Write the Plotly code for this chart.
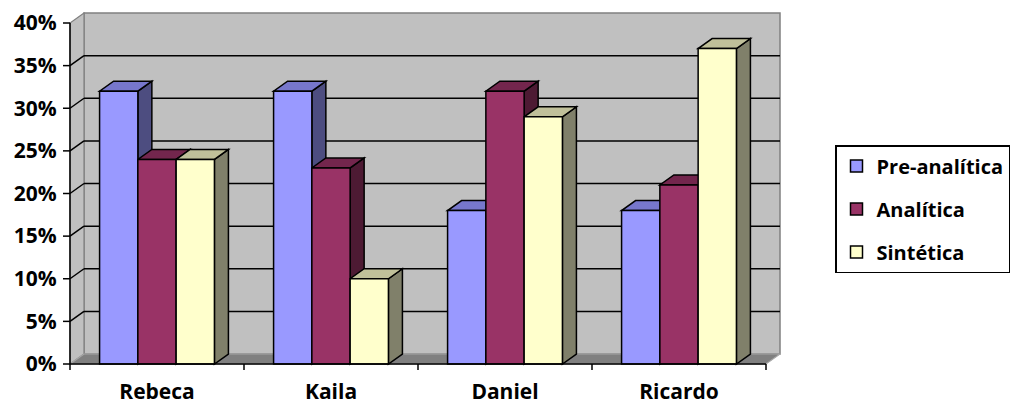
import plotly.graph_objects as go

# ---------------- data ----------------
categories = ["Rebeca", "Kaila", "Daniel", "Ricardo"]
series_names = ["Pre-analítica", "Analítica", "Sintética"]
pre_analitica = [32, 32, 18, 18]
analitica = [24, 23, 32, 21]
sintetica = [24, 10, 29, 37]
y_tick_values = [0, 5, 10, 15, 20, 25, 30, 35, 40]
y_tick_labels = ["0%", "5%", "10%", "15%", "20%", "25%", "30%", "35%", "40%"]

series_values = [pre_analitica, analitica, sintetica]
front_colors = ["#9999FF", "#993366", "#FFFFCC"]
top_colors = ["#7777CC", "#73264D", "#C0C09A"]
side_colors = ["#4D4D80", "#4D1A33", "#80806A"]

# ---------------- geometry (pixels) ----------------
W, H = 1013, 404
FRONT_LEFT = 70          # px of the front y axis
CAT_PX = 174             # px per category
PCT_PX = 8.525           # px per percent
BASE_Y = 364             # px of the front baseline
DEPTH_X, DEPTH_Y = 14, 10
PAD = 2
BARGAP = 0.34
YMAX = max(y_tick_values)
n = len(categories)
FONT = "Open Sans"

dxu = DEPTH_X / CAT_PX
dyu = DEPTH_Y / PCT_PX
XR = [-0.5 - PAD / CAT_PX, n - 0.5 + dxu + 1 / CAT_PX]
YR = [-PAD / PCT_PX, YMAX + dyu + 1 / PCT_PX]

m_l = FRONT_LEFT - PAD
m_r = W - (FRONT_LEFT + n * CAT_PX + DEPTH_X + 1)
m_t = round(BASE_Y - YMAX * PCT_PX - DEPTH_Y - 1)
m_b = H - BASE_Y - PAD
plot_w = W - m_l - m_r
plot_h = H - m_t - m_b


def xp(x):
    return (x - XR[0]) / (XR[1] - XR[0])


def yp(y):
    return (y - YR[0]) / (YR[1] - YR[0])


def path(points):
    return "M " + " L ".join(f"{x},{y}" for x, y in points) + " Z"


shapes = []
L, R = -0.5, n - 0.5
# back wall
shapes.append(dict(type="rect", xref="x", yref="y", x0=L + dxu, x1=R + dxu, y0=dyu, y1=YMAX + dyu,
                   fillcolor="#C0C0C0", line=dict(color="#808080", width=1.5), layer="below"))
# left wall
shapes.append(dict(type="path", xref="x", yref="y",
                   path=path([(L, 0), (L, YMAX), (L + dxu, YMAX + dyu), (L + dxu, dyu)]),
                   fillcolor="#C0C0C0", line=dict(color="#808080", width=1.2), layer="below"))
# floor
shapes.append(dict(type="path", xref="x", yref="y",
                   path=path([(L, 0), (R, 0), (R + dxu, dyu), (L + dxu, dyu)]),
                   fillcolor="#808080", line=dict(color="#A6A6A6", width=1.2), layer="below"))
# gridlines
for v in y_tick_values[1:-1]:
    shapes.append(dict(type="line", xref="x", yref="y", x0=L + dxu, x1=R + dxu, y0=v + dyu, y1=v + dyu,
                       line=dict(color="black", width=1.5), layer="below"))
    shapes.append(dict(type="line", xref="x", yref="y", x0=L, x1=L + dxu, y0=v, y1=v + dyu,
                       line=dict(color="black", width=1.5), layer="below"))

# bar side / top faces
w = (1 - BARGAP) / len(series_values)
for c in range(n):
    for s, vals in enumerate(series_values):
        v = vals[c]
        xl = c - (1 - BARGAP) / 2 + w * s
        xr = xl + w
        shapes.append(dict(type="path", xref="x", yref="y",
                           path=path([(xr, 0), (xr, v), (xr + dxu, v + dyu), (xr + dxu, dyu)]),
                           fillcolor=side_colors[s], line=dict(color="black", width=1.5), layer="below"))
        shapes.append(dict(type="path", xref="x", yref="y",
                           path=path([(xl, v), (xr, v), (xr + dxu, v + dyu), (xl + dxu, v + dyu)]),
                           fillcolor=top_colors[s], line=dict(color="black", width=1.5), layer="below"))

# front axes (paper coords, unclipped)
tick_px_x = 7 / plot_w
tick_px_y = 6 / plot_h
shapes.append(dict(type="line", xref="paper", yref="paper", x0=xp(L), x1=xp(L), y0=yp(0), y1=yp(YMAX),
                   line=dict(color="black", width=1.5), layer="above"))
for v in y_tick_values:
    shapes.append(dict(type="line", xref="paper", yref="paper", x0=xp(L) - tick_px_x, x1=xp(L),
                       y0=yp(v), y1=yp(v), line=dict(color="black", width=1.5), layer="above"))
shapes.append(dict(type="line", xref="paper", yref="paper", x0=xp(L), x1=xp(R), y0=yp(0), y1=yp(0),
                   line=dict(color="black", width=1.5), layer="above"))
for k in range(n + 1):
    xb = k - 0.5
    shapes.append(dict(type="line", xref="paper", yref="paper", x0=xp(xb), x1=xp(xb),
                       y0=yp(0), y1=yp(0) - tick_px_y, line=dict(color="black", width=1.5), layer="above"))

fig = go.Figure()
for s, vals in enumerate(series_values):
    fig.add_trace(go.Bar(
        x=list(range(n)), y=vals, name=series_names[s], legendgroup=str(s),
        marker=dict(color=front_colors[s], line=dict(color="black", width=1.5)),
    ))

fig.update_layout(
    width=W, height=H,
    margin=dict(l=m_l, r=m_r, t=m_t, b=m_b, autoexpand=False),
    paper_bgcolor="white", plot_bgcolor="white",
    font=dict(family=FONT, size=21, color="black", weight="bold"),
    barmode="group", bargap=BARGAP, bargroupgap=0,
    shapes=shapes,
    showlegend=True,
    legend=dict(x=(835 - m_l) / plot_w, y=1 - (145 - m_t) / plot_h,
                xanchor="left", yanchor="top",
                bordercolor="black", borderwidth=1.5, bgcolor="white",
                traceorder="grouped", tracegroupgap=14, itemwidth=30,
                font=dict(family=FONT, size=20, color="black", weight="bold")),
    xaxis=dict(range=XR, tickmode="array", tickvals=list(range(n)), ticktext=categories,
               showgrid=False, zeroline=False, showline=False, automargin=False,
               ticks="outside", ticklen=7, tickcolor="rgba(0,0,0,0)", fixedrange=True),
    yaxis=dict(range=YR, tickmode="array", tickvals=y_tick_values, ticktext=y_tick_labels,
               showgrid=False, zeroline=False, showline=False, automargin=False,
               ticks="outside", ticklen=6, tickcolor="rgba(0,0,0,0)", fixedrange=True),
)

fig.write_html("out.html")
